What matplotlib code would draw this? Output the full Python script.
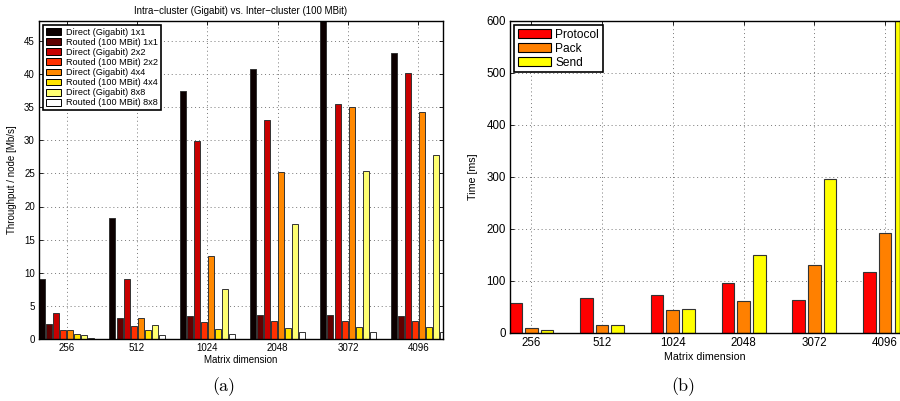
import matplotlib
matplotlib.use("Agg")
import matplotlib.pyplot as plt
import numpy as np

plt.rcParams['font.family'] = ['Liberation Sans', 'DejaVu Sans']

# ---- Data ----
sizes = ["256", "512", "1024", "2048", "3072", "4096"]

series_a = [
    "Direct (Gigabit) 1x1", "Routed (100 MBit) 1x1",
    "Direct (Gigabit) 2x2", "Routed (100 MBit) 2x2",
    "Direct (Gigabit) 4x4", "Routed (100 MBit) 4x4",
    "Direct (Gigabit) 8x8", "Routed (100 MBit) 8x8",
]
direct_1x1 = [9.1, 18.3, 37.4, 40.8, 49.0, 43.1]
routed_1x1 = [2.3, 3.1, 3.5, 3.6, 3.6, 3.5]
direct_2x2 = [4.0, 9.1, 29.9, 33.1, 35.5, 40.2]
routed_2x2 = [1.3, 2.0, 2.5, 2.65, 2.65, 2.65]
direct_4x4 = [1.3, 3.2, 12.5, 25.2, 35.0, 34.2]
routed_4x4 = [0.7, 1.3, 1.5, 1.7, 1.75, 1.75]
direct_8x8 = [0.65, 2.1, 7.6, 17.3, 25.3, 27.8]
routed_8x8 = [0.2, 0.55, 0.7, 1.0, 1.0, 1.0]
values_a = [direct_1x1, routed_1x1, direct_2x2, routed_2x2,
            direct_4x4, routed_4x4, direct_8x8, routed_8x8]
colors_a = ["#0c0000", "#5e0000", "#c80000", "#ff3000",
            "#ff8800", "#ffe400", "#ffff70", "#ffffff"]

series_b = ["Protocol", "Pack", "Send"]
protocol = [57.2, 67.5, 72.0, 95.8, 63.0, 116.4]
pack = [8.4, 14.1, 44.4, 60.4, 130.0, 192.3]
send = [4.5, 14.1, 46.3, 149.8, 295.4, 640.0]
values_b = [protocol, pack, send]
colors_b = ["#ff0000", "#ff8000", "#ffff00"]

W, H = 900, 401
fig = plt.figure(figsize=(W / 100, H / 100), dpi=100)

def fx(px):
    return px / W

def fy(py):
    return 1 - py / H

def style_axes(ax, fs):
    for s in ax.spines.values():
        s.set_color("black")
        s.set_linewidth(1.0)
    ax.tick_params(direction="in", length=3, width=0.6, labelsize=fs,
                   top=True, right=True, pad=3)
    ax.grid(True, linestyle=(0, (1, 3)), color="#777777", linewidth=0.7)
    ax.set_axisbelow(True)

# ---- Panel (a) ----
ax1 = fig.add_axes([fx(39), fy(339), fx(443 - 39), (339 - 21) / H])
x = np.arange(1, len(sizes) + 1)
n = len(values_a)
for i, (vals, col, lab) in enumerate(zip(values_a, colors_a, series_a)):
    ax1.bar(x + (i - (n - 1) / 2) * 0.1, vals, width=0.085, color=col,
            edgecolor="#333333", linewidth=0.7, label=lab)
ax1.set_xlim(0.605, 6.35)
ax1.set_ylim(0, 48)
ax1.set_yticks(np.arange(0, 46, 5))
ax1.set_xticks(x)
ax1.set_xticklabels(sizes)
style_axes(ax1, 7.0)
ax1.set_xlabel("Matrix dimension", fontsize=7, labelpad=1)
ax1.set_ylabel("Throughput / node [Mb/s]", fontsize=7, labelpad=5)
ax1.set_title("Intra\u2212cluster (Gigabit) vs. Inter\u2212cluster (100 MBit)",
              fontsize=7, pad=5)
leg1 = ax1.legend(loc="upper left", bbox_to_anchor=(fx(43), fy(25)),
                  bbox_transform=fig.transFigure, borderaxespad=0,
                  fontsize=6.6, handlelength=1.7, handleheight=0.75,
                  labelspacing=0.12, handletextpad=0.5, borderpad=0.3,
                  fancybox=False, framealpha=1)
leg1.get_frame().set_edgecolor("black")
leg1.get_frame().set_linewidth(1.2)
for p in leg1.get_patches():
    p.set_edgecolor("black")

# ---- Panel (b) ----
ax2 = fig.add_axes([fx(510), fy(332.7), fx(900 - 510), (332.7 - 20.7) / H])
m = len(values_b)
for i, (vals, col, lab) in enumerate(zip(values_b, colors_b, series_b)):
    ax2.bar(x + (i - (m - 1) / 2) * 0.222, vals, width=0.178, color=col,
            edgecolor="#333333", linewidth=0.8, label=lab)
ax2.set_xlim(0.70, 6.21)
ax2.set_ylim(0, 600)
ax2.set_yticks(np.arange(0, 601, 100))
ax2.set_xticks(x)
ax2.set_xticklabels(sizes)
style_axes(ax2, 8.3)
ax2.set_xlabel("Matrix dimension", fontsize=7.7, labelpad=2)
ax2.set_ylabel("Time [ms]", fontsize=7.7, labelpad=6)
leg2 = ax2.legend(loc="upper left", bbox_to_anchor=(fx(514), fy(25)),
                  bbox_transform=fig.transFigure, borderaxespad=0,
                  fontsize=8.6, handlelength=2.8, handleheight=0.8,
                  labelspacing=0.18, handletextpad=0.35, borderpad=0.3,
                  fancybox=False, framealpha=1)
leg2.get_frame().set_edgecolor("black")
leg2.get_frame().set_linewidth(1.2)
for p in leg2.get_patches():
    p.set_edgecolor("black")

# ---- Sub-captions ----
fig.text(fx(224), fy(387), "(a)", family=["cmr10", "DejaVu Serif"],
         fontsize=13, ha="center", va="center")
fig.text(fx(683), fy(387), "(b)", family=["cmr10", "DejaVu Serif"],
         fontsize=13, ha="center", va="center")

fig.savefig("out.png", dpi=100)
